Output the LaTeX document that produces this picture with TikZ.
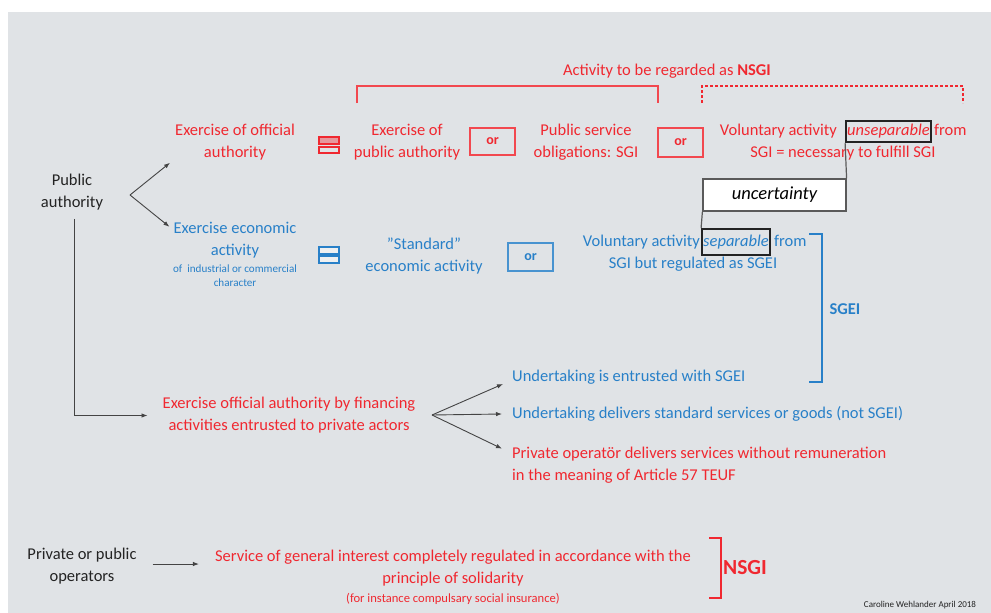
\documentclass[tikz,border=0pt]{standalone}
\usepackage{fontspec}
\setmainfont{Carlito}
\usetikzlibrary{calc,arrows.meta}
\definecolor{myred}{RGB}{240,40,48}
\definecolor{myblue}{RGB}{40,128,200}
\definecolor{bggray}{RGB}{224,227,230}
\definecolor{darktxt}{RGB}{35,35,35}
\tikzset{
 txt/.style={inner sep=0pt, align=center, font=\fontsize{16.5}{22}\selectfont},
 redtxt/.style={txt, text=myred},
 bluetxt/.style={txt, text=myblue},
 darktext/.style={txt, text=darktxt},
 orbox/.style={draw, line width=1.1pt, minimum width=45pt, minimum height=27pt, inner sep=0pt, font=\fontsize{14}{16}\selectfont\bfseries},
 arr/.style={draw=darktxt!85, line width=0.9pt, -{Latex[length=6pt,width=4.5pt]}},
 wordbox/.style={draw=darktxt, line width=1.8pt, inner xsep=0pt, text height=12pt, text depth=4pt, font=\fontsize{16.5}{22}\selectfont\itshape},
 eqbar/.style={line width=1.4pt},
}
\begin{document}
\begin{tikzpicture}[x=1pt,y=-1pt]
\useasboundingbox (0,0) rectangle (991,613);
\fill[white] (0,0) rectangle (991,613);
\fill[bggray] (8,12) rectangle (991,613);

% title and brackets
\node[redtxt, font=\fontsize{16.5}{20}\selectfont] (title) at (667,71) {Activity to be regarded as \textbf{NSGI}};
\draw[myred!85, line width=1.8pt] (357,103) -- (357,86) -- (658,86) -- (658,103);
\draw[myred, line width=1.2pt, dash pattern=on 3pt off 2pt] (702,103) -- (702,86) -- (963,86) -- (963,103);

% row 1
\node[redtxt] (offauth) at (235,142) {Exercise of official\\authority};
\draw[eqbar, draw=myred, fill=myred!40!bggray] (319,137) rectangle (339,144);
\draw[eqbar, draw=myred, fill=bggray] (319,147) rectangle (339,153);
\node[redtxt] (pubauth) at (407,142) {Exercise of\\public authority};
\node[orbox, draw=myred!85, text=myred] (or1) at (492.5,141.5) {or};
\node[redtxt] (pso) at (586,142) {Public service\\obligations: SGI};
\node[orbox, draw=myred!85, text=myred, minimum height=29pt] (or2) at (680.5,142.5) {or};

\node[wordbox, text=myred, inner ysep=2.5pt, minimum width=85pt, anchor=base] (unsep) at (888.5,135.5) {unseparable};
\node[redtxt, anchor=base east] (vol1a) at ($(unsep.base west)+(-8,0)$) {Voluntary activity};
\node[redtxt, anchor=base west] (vol1c) at ($(unsep.base east)+(2,0)$) {from};
\node[redtxt, anchor=base] (vol2) at (843,157.5) {SGI = necessary to fulfill SGI};

\node[draw=darktxt!75, line width=1.2pt, fill=white, minimum width=143pt, minimum height=32pt, inner sep=0pt, font=\fontsize{18.5}{22}\selectfont\itshape, text=black] (uncert) at (774.5,195) {uncertainty};

% row 2
\node[bluetxt] (econ) at (235,240) {Exercise economic\\activity};
\node[bluetxt, font=\fontsize{11.1}{14}\selectfont] (econsub) at (235,276) {of\ \ industrial or commercial\\character};
\draw[eqbar, draw=myblue, fill=white!45!bggray] (319,247) rectangle (339,254);
\draw[eqbar, draw=myblue, fill=white!45!bggray] (319,256) rectangle (339,263);
\node[bluetxt] (std) at (424,256) {”Standard”\\economic activity};
\node[orbox, draw=myblue!85, text=myblue, minimum height=28pt] (or3) at (530.5,257) {or};

\node[wordbox, text=myblue, inner ysep=5pt, minimum width=68pt, anchor=base] (sep) at (736,246) {separable};
\node[bluetxt, anchor=base east] (vol3a) at ($(sep.base west)+(-1,0)$) {Voluntary activity};
\node[bluetxt, anchor=base west] (vol3c) at ($(sep.base east)+(3,0)$) {from};
\node[bluetxt, anchor=base] (vol4) at (693,268) {SGI but regulated as SGEI};

\draw[darktxt!75, line width=1.2pt] (unsep.south west) -- (uncert.north east);
\draw[darktxt!75, line width=1.2pt] (uncert.south west) -- (sep.north west);

\draw[myblue, line width=1.5pt] (809,234) -- (822,234) -- (822,382) -- (809,382);
\node[bluetxt, font=\fontsize{16.5}{20}\selectfont\bfseries] (sgei) at (845,309) {SGEI};

% public authority
\node[darktext] (pa) at (72,192.5) {Public\\authority};
\coordinate (fork1) at (130,195);
\draw[arr] (fork1) -- ($(offauth.south west)+(-5,2.5)$);
\draw[arr] (fork1) -- ($(econ.north west)+(-4,5)$);

\node[redtxt] (fin) at (289,415.5) {Exercise official authority by financing\\activities entrusted to private actors};
\draw[arr] ($(pa.south)+(2,8)$) |- ($(fin.west)+(-15,0)$);

\coordinate (fork2) at (432,415);
\node[bluetxt, anchor=west] (ue) at (512,377) {Undertaking is entrusted with SGEI};
\node[bluetxt, anchor=west] (ud) at (512,414) {Undertaking delivers standard services or goods (not SGEI)};
\node[redtxt, anchor=west, align=left] (po) at (512,465) {Private operatör delivers services without remuneration\\in the meaning of Article 57 TEUF};
\draw[arr] (fork2) -- ($(ue.west)+(-9,7)$);
\draw[arr] (fork2) -- ($(ud.west)+(-10,0)$);
\draw[arr] (fork2) -- ($(po.north west)+(-10,2)$);

% bottom
\node[darktext] (ppo) at (82,566.5) {Private or public\\operators};
\node[redtxt] (sgi) at (453,568) {Service of general interest completely regulated in accordance with the\\principle of solidarity};
\node[redtxt, font=\fontsize{12.6}{14}\selectfont] (sgisub) at (453,599) {(for instance compulsary social insurance)};
\draw[arr] ($(ppo.east)+(16,-2.5)$) -- ($(ppo.east -| sgi.west)+(-16,-2.5)$);
\draw[myred, line width=2.5pt] (709,538) -- (721,538) -- (721,598) -- (709,598);
\node[redtxt, font=\fontsize{21.5}{24}\selectfont\bfseries] (nsgi) at (745,568) {NSGI};
\node[darktext, font=\fontsize{9}{10}\selectfont] (credit) at (920,605) {Caroline Wehlander April 2018};
\end{tikzpicture}
\end{document}
